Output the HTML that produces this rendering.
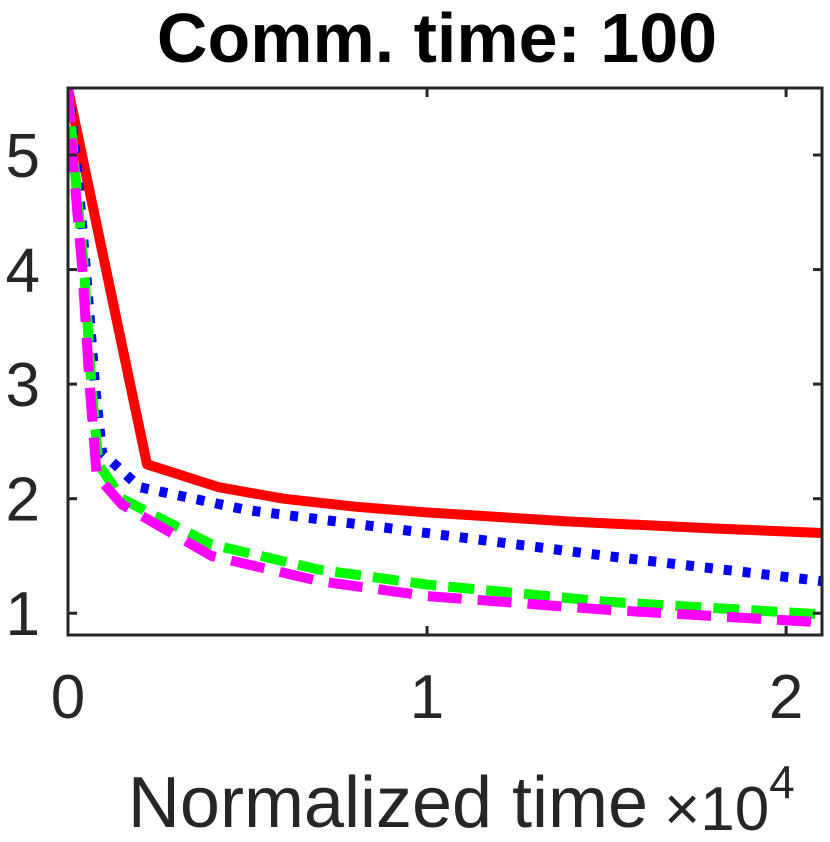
<!DOCTYPE html>
<html><head><meta charset="utf-8"><style>
body{margin:0;background:#fff;width:830px;height:837px;overflow:hidden}
text{font-family:"Liberation Sans",Arial,sans-serif;fill:#262626}
</style></head><body>
<svg id="chart" width="830" height="837">
<text x="437" y="62" text-anchor="middle" font-size="70" font-weight="bold" style="fill:#000">Comm. time: 100</text>
<g id="plot"></g>
<text x="388" y="827" text-anchor="middle" font-size="72">Normalized time</text>
<text x="664" y="830" font-size="62">×10<tspan dy="-32" font-size="46">4</tspan></text>
</svg>
<script>
const xTicks=[0,1,2];
const yTicks=[1,2,3,4,5];
const redX=[0,0.22,0.42,0.6,0.8,1.0,1.2,1.4,1.6,1.8,2.1];
const redY=[5.58,2.3,2.1,2.0,1.93,1.88,1.84,1.8,1.77,1.74,1.7];
const blueX=[0,0.025,0.05,0.075,0.095,0.2,0.5,1.0,1.5,2.1];
const blueY=[5.58,4.9,4.0,3.0,2.4,2.1,1.9,1.7,1.5,1.28];
const greenX=[0,0.018,0.045,0.065,0.085,0.15,0.4,0.7,1.0,1.5,2.1];
const greenY=[5.58,4.9,4.0,3.0,2.3,2.0,1.6,1.38,1.25,1.1,0.99];
const magX=[0,0.015,0.04,0.06,0.08,0.15,0.4,0.7,1.0,1.5,2.1];
const magY=[5.58,4.9,4.0,3.0,2.2,1.95,1.5,1.28,1.15,1.03,0.92];
const L=68,R=822,T=88,B=635,xmin=0,xmax=2.1,ymin=0.81,ymax=5.585;
const sx=v=>L+(v-xmin)/(xmax-xmin)*(R-L);
const sy=v=>B-(v-ymin)/(ymax-ymin)*(B-T);
const NS='http://www.w3.org/2000/svg';
const g=document.getElementById('plot');
function mk(t,a){const e=document.createElementNS(NS,t);for(const k in a)e.setAttribute(k,a[k]);g.appendChild(e);return e;}
const clip=document.createElementNS(NS,'clipPath');clip.setAttribute('id','c');
const cr=document.createElementNS(NS,'rect');cr.setAttribute('x',L);cr.setAttribute('y',T);cr.setAttribute('width',R-L);cr.setAttribute('height',B-T);clip.appendChild(cr);g.appendChild(clip);
function series(xs,ys,color,dash,name){
  const p=mk('polyline',{points:xs.map((x,i)=>sx(x)+','+sy(ys[i])).join(' '),fill:'none',stroke:color,'stroke-width':10,'stroke-dasharray':dash,'clip-path':'url(#c)','stroke-linejoin':'round'});
  
  
}
series(redX,redY,'#ff0000','none','series-red');
series(blueX,blueY,'#0000ff','8 11','series-blue');
series(greenX,greenY,'#00ff00','26 12','series-green');
series(magX,magY,'#ff00ff','34 16','series-magenta');
const box=mk('rect',{x:L,y:T,width:R-L,height:B-T,fill:'none',stroke:'#262626','stroke-width':3});


xTicks.forEach(v=>{
  mk('line',{x1:sx(v),x2:sx(v),y1:B,y2:B-9,stroke:'#262626','stroke-width':3});
  mk('line',{x1:sx(v),x2:sx(v),y1:T,y2:T+9,stroke:'#262626','stroke-width':3});
  const t=mk('text',{x:sx(v),y:718,'text-anchor':'middle','font-size':62});t.textContent=v;
  
  
});
yTicks.forEach(v=>{
  mk('line',{x1:L,x2:L+9,y1:sy(v),y2:sy(v),stroke:'#262626','stroke-width':3});
  mk('line',{x1:R,x2:R-9,y1:sy(v),y2:sy(v),stroke:'#262626','stroke-width':3});
  const t=mk('text',{x:40,y:sy(v)+22,'text-anchor':'end','font-size':62});t.textContent=v;
  
  
});
</script>
</body></html>
